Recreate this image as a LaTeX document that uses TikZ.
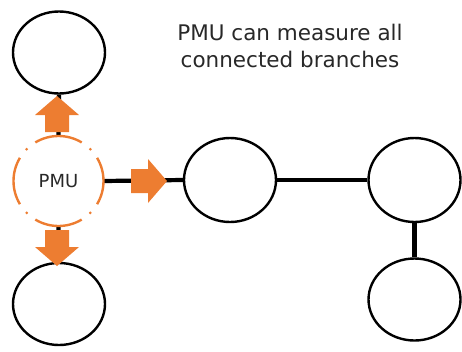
\documentclass[tikz,border=0pt]{standalone}
\usepackage{fontspec}
\setmainfont{DejaVu Sans}
\usetikzlibrary{shapes.geometric}
\definecolor{pmuorange}{RGB}{237,125,49}
\definecolor{txt}{RGB}{40,40,40}
\tikzset{
  bus/.style={ellipse,draw=black,line width=2.4pt,fill=white,minimum width=92pt,minimum height=82pt,inner sep=0pt},
  pmunode/.style={circle,minimum size=90pt,inner sep=0pt,text=txt,font=\fontsize{18}{20}\selectfont},
  pmuring/.style={draw=pmuorange,line width=2.4pt},
  wire/.style={line width=4.2pt,black},
  fatarrow/.pic={\fill[pmuorange] (0,-12) -- (17,-12) -- (17,-22) -- (36,0) -- (17,22) -- (17,12) -- (0,12) -- cycle;},
  title/.style={align=center,text=txt,font=\fontsize{21.5}{27}\selectfont}
}
\begin{document}
\begin{tikzpicture}[x=1pt,y=1pt]
\useasboundingbox (0,0) rectangle (462,-351);
\node[bus] (tl) at (59,-52.5) {};
\node[bus] (bl) at (59,-304) {};
\node[pmunode] (pmu) at (58.5,-181) {PMU};
\node[bus,minimum height=84pt] (m) at (230,-180) {};
\node[bus,minimum height=84pt] (r1) at (414.5,-180) {};
\node[bus] (r2) at (414.5,-299.5) {};
\draw[wire] (pmu.north) -- (tl.south);
\draw[wire] (pmu.south) -- (bl.north);
\draw[wire] (pmu.east) -- (m.west);
\draw[wire] (m.east) -- (r1.west);
\draw[wire] (r1.south) -- (r2.north);
\foreach \a in {0,90,180,270}{
  \draw[pmuring] ([shift={(\a-31:45)}]pmu.center) arc[start angle=\a-31,end angle=\a+31,radius=45];
  \fill[pmuorange] ([shift={(\a+45:45)}]pmu.center) circle[radius=1.5];
}
\pic at (57,-132) [rotate=90] {fatarrow};
\pic at (57,-230) [rotate=-90] {fatarrow};
\pic at (131,-181) {fatarrow};
\node[title] (t) at (290,-46) {PMU can measure all\\connected branches};
\end{tikzpicture}
\end{document}
